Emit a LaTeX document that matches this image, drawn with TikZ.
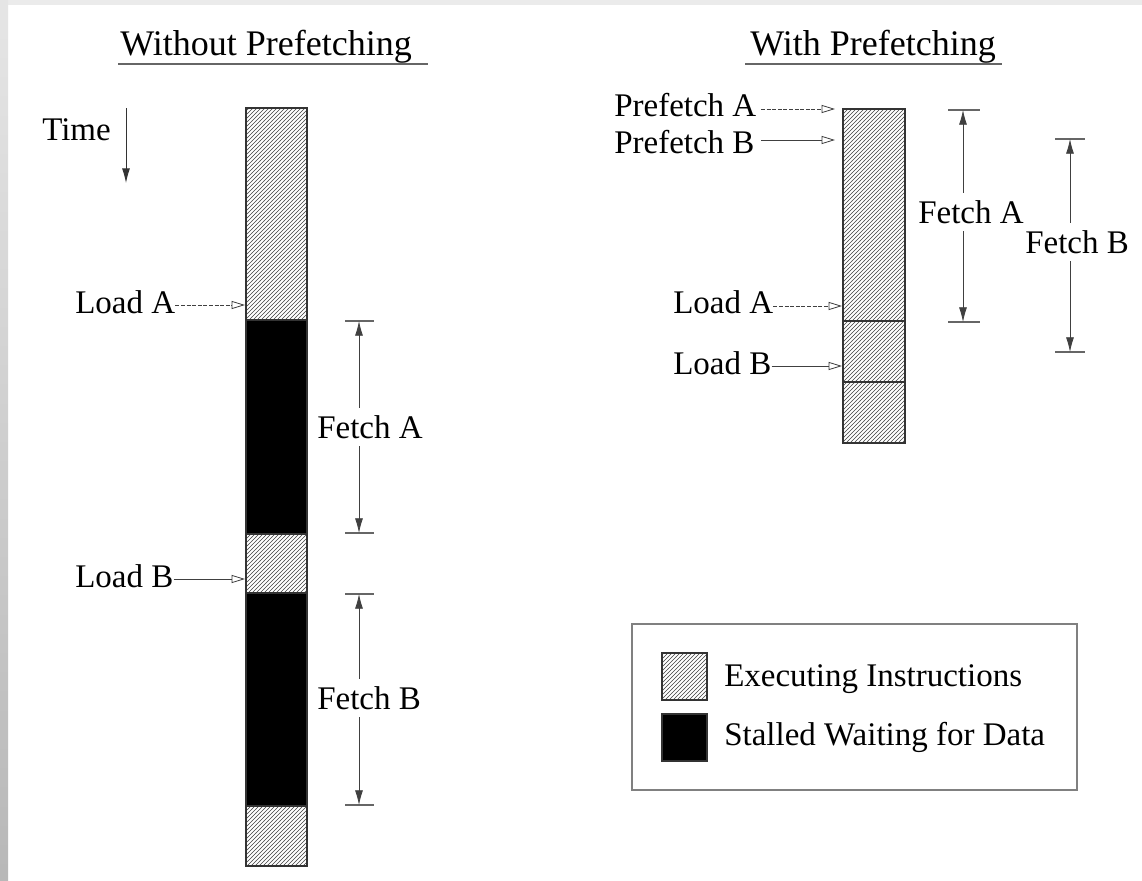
\documentclass[tikz,border=0pt]{standalone}
\usepackage{fontspec}
\setmainfont{Liberation Serif}
\usetikzlibrary{arrows.meta,patterns}
\begin{document}
\begin{tikzpicture}[x=0.75pt,y=-0.75pt,
  exec/.style={pattern=north east lines, pattern color=black!75, draw=black!80, line width=0.8pt},
  stall/.style={fill=black, draw=black!80, line width=0.8pt},
  lbl/.style={font=\fontsize{24.75}{28}\selectfont, inner sep=0pt, anchor=base west},
  ttl/.style={font=\fontsize{27}{30}\selectfont, inner sep=0pt, anchor=base west},
  ptr/.style={draw=black!75, line width=0.6pt, -{Triangle[open,length=10pt,width=6pt]}},
  ptrd/.style={ptr, dash pattern=on 3pt off 1.2pt},
  dimln/.style={draw=black!75, line width=0.6pt, {Latex[length=11pt,width=6pt]}-{Latex[length=11pt,width=6pt]}},
  dimlbl/.style={font=\fontsize{24.75}{28}\selectfont, anchor=west, fill=white, inner xsep=0pt, inner ysep=5.6pt},
  tickln/.style={draw=black!60, line width=1pt},
  uline/.style={draw=black!60, line width=0.8pt}]
\useasboundingbox (0,0) rectangle (1142,881);
\fill[white] (0,0) rectangle (1142,881);
\fill[black!8] (0,0) rectangle (1142,5);
\shade[top color=black!10, bottom color=black!28] (0,0) rectangle (8,881);

% titles
\node[ttl] (t1) at (120,56) {Without Prefetching};
\draw[uline] (118,64) -- (428,64);
\node[ttl] (t2) at (750,56) {With Prefetching};
\draw[uline] (745,64) -- (1002,64);

% time arrow
\node[lbl] (time) at (42,140) {Time};
\coordinate (tA) at (126,108);
\coordinate (tB) at (126,183);
\draw[draw=black!80, line width=0.7pt, -{Latex[length=11pt,width=6pt]}] (tA) -- (tB);

% left bar
\draw[exec]  (246,108) rectangle (307,320);
\draw[stall] (246,320) rectangle (307,534);
\draw[exec]  (246,534) rectangle (307,593);
\draw[stall] (246,593) rectangle (307,806);
\draw[exec]  (246,806) rectangle (307,866);

\node[lbl] (lA) at (75,313) {Load A};
\coordinate (lAb) at (245,305);
\draw[ptrd] (lA.east |- lAb) -- (lAb);
\node[lbl] (lB) at (75,587) {Load B};
\coordinate (lBb) at (245,579);
\draw[ptr] (lB.east |- lBb) -- (lBb);

% left dimensions
\coordinate (fa1) at (359,321);
\coordinate (fa2) at (359,533);
\draw[tickln] (345,321) -- (374,321);
\draw[tickln] (345,533) -- (374,533);
\draw[dimln] (fa1) -- (fa2);
\node[dimlbl] (fA) at (317,427) {Fetch A};
\coordinate (fb1) at (359,594);
\coordinate (fb2) at (359,805);
\draw[tickln] (345,594) -- (374,594);
\draw[tickln] (345,805) -- (374,805);
\draw[dimln] (fb1) -- (fb2);
\node[dimlbl] (fB) at (317,698) {Fetch B};

% right bar
\draw[exec] (843,109) rectangle (905,321);
\draw[exec] (843,321) rectangle (905,382);
\draw[exec] (843,382) rectangle (905,443);

\node[lbl] (pA) at (614,117) {Prefetch A};
\coordinate (pAs) at (761,109);
\coordinate (pAe) at (835,109);
\draw[ptrd] (pAs) -- (pAe);
\node[lbl] (pB) at (614,153) {Prefetch B};
\coordinate (pBs) at (761,140);
\coordinate (pBe) at (835,140);
\draw[ptr] (pBs) -- (pBe);
\node[lbl] (rlA) at (673,313) {Load A};
\coordinate (rlAb) at (842,306);
\draw[ptrd] (rlA.east |- rlAb) -- (rlAb);
\node[lbl] (rlB) at (673,374) {Load B};
\coordinate (rlBb) at (842,366);
\draw[ptr] (rlB.east |- rlBb) -- (rlBb);

% right dimensions
\coordinate (rfa1) at (963,110);
\coordinate (rfa2) at (963,322);
\draw[tickln] (948,110) -- (980,110);
\draw[tickln] (948,322) -- (980,322);
\draw[dimln] (rfa1) -- (rfa2);
\node[dimlbl] (rfA) at (918,212) {Fetch A};
\coordinate (rfb1) at (1070,139);
\coordinate (rfb2) at (1070,352);
\draw[tickln] (1055,139) -- (1085,139);
\draw[tickln] (1055,352) -- (1085,352);
\draw[dimln] (rfb1) -- (rfb2);
\node[dimlbl] (rfB) at (1025,242) {Fetch B};

% legend
\draw[draw=black!50, line width=1pt] (632,624) rectangle (1077,790);
\draw[exec]  (662,653) rectangle (707,700);
\draw[stall] (662,714) rectangle (707,761);
\node[lbl] (lg1) at (724,686) {Executing Instructions};
\node[lbl] (lg2) at (724,745) {Stalled Waiting for Data};
\end{tikzpicture}
\end{document}
